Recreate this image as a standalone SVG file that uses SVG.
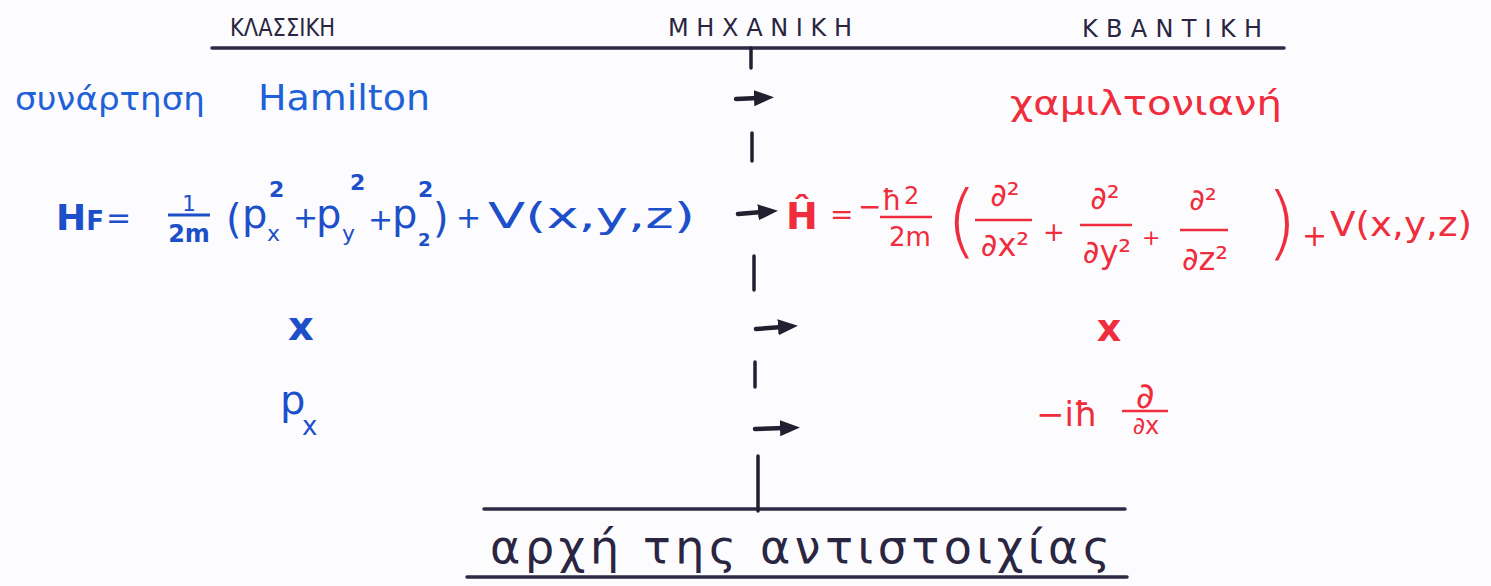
<svg xmlns="http://www.w3.org/2000/svg" width="1491" height="586" viewBox="0 0 1491 586">
<style>
.hd{font-family:"DejaVu Sans",sans-serif;font-size:24px;fill:#2a2540;}
.bl{font-family:"DejaVu Sans",sans-serif;fill:#1f62d8;}
.bm{font-family:"DejaVu Sans",sans-serif;fill:#1c4fc9;}
.rd{font-family:"DejaVu Sans",sans-serif;fill:#ef2d3c;}
.dk{font-family:"DejaVu Sans",sans-serif;fill:#2a2540;}
.rule{stroke:#2d2a45;stroke-width:3.5;stroke-linecap:round;}
.dash{stroke:#221f30;stroke-width:3.5;stroke-linecap:round;}
.fr{stroke:#ef2d3c;stroke-width:2.5;}
.fb{stroke:#1c4fc9;stroke-width:3;}
.arr{stroke:#221f30;stroke-width:4.5;stroke-linecap:round;fill:none;marker-end:url(#ah);}
</style>
<defs>
<marker id="ah" markerUnits="userSpaceOnUse" markerWidth="22" markerHeight="20" refX="4" refY="10" orient="auto">
<path d="M0,2 L20,10 L0,18 z" fill="#221f30"/>
</marker>
</defs>
<rect width="1491" height="586" fill="#fcfcfe"/>

<g id="frame">
<line class="rule" x1="212" y1="48" x2="1284" y2="48"/>
<line class="rule" x1="484" y1="509" x2="1125" y2="509"/>
<line class="rule" x1="467" y1="577" x2="1127" y2="577"/>
<line class="dash" x1="751" y1="48" x2="751" y2="68"/>
<line class="dash" x1="752" y1="133" x2="752" y2="161"/>
<line class="dash" x1="754" y1="256" x2="754" y2="290"/>
<line class="dash" x1="755" y1="362" x2="755" y2="387"/>
<line class="dash" x1="758" y1="456" x2="758" y2="511"/>
</g>

<g id="header">
<text class="hd" x="230" y="36" textLength="105" lengthAdjust="spacingAndGlyphs">ΚΛΑΣΣΙΚΗ</text>
<text class="hd" x="668" y="36" textLength="184" lengthAdjust="spacing">ΜΗΧΑΝΙΚΗ</text>
<text class="hd" x="1082" y="37" textLength="180" lengthAdjust="spacing">ΚΒΑΝΤΙΚΗ</text>
</g>

<g id="classical-hamilton-name">
<text class="bl" x="15" y="110" font-size="32" textLength="190" lengthAdjust="spacingAndGlyphs">συνάρτηση</text>
<text class="bl" x="258" y="110" font-size="36" textLength="172" lengthAdjust="spacingAndGlyphs">Hamilton</text>
</g>

<g id="quantum-hamilton-name">
<text class="rd" x="1010" y="115" font-size="34" textLength="272" lengthAdjust="spacingAndGlyphs">χαμιλτονιανή</text>
</g>

<g id="classical-hamiltonian">
<text class="bm" x="56" y="230" font-size="36" font-weight="bold">H<tspan font-size="26">F</tspan></text>
<text class="bm" x="106" y="228" font-size="30">=</text>
<text class="bm" x="189" y="211" font-size="22" text-anchor="middle">1</text>
<line class="fb" x1="168" y1="215" x2="210" y2="215"/>
<text class="bm" x="189" y="242" font-size="24" text-anchor="middle" font-weight="bold">2m</text>
<text class="bm" x="226" y="233" font-size="40">(</text>
<text class="bm" x="242" y="228" font-size="40">p</text>
<text class="bm" x="267" y="241" font-size="22">x</text>
<text class="bm" x="269" y="197" font-size="22" font-weight="bold">2</text>
<text class="bm" x="293" y="228" font-size="30">+</text>
<text class="bm" x="316" y="228" font-size="40">p</text>
<text class="bm" x="342" y="241" font-size="22">y</text>
<text class="bm" x="350" y="190" font-size="22" font-weight="bold">2</text>
<text class="bm" x="368" y="230" font-size="30">+</text>
<text class="bm" x="392" y="228" font-size="40">p</text>
<text class="bm" x="418" y="246" font-size="18" font-weight="bold">2</text>
<text class="bm" x="418" y="197" font-size="22" font-weight="bold">2</text>
<text class="bm" x="433" y="232" font-size="40">)</text>
<text class="bm" x="456" y="228" font-size="30">+</text>
<text class="bm" x="488" y="228" font-size="36" textLength="207" lengthAdjust="spacingAndGlyphs">V(x,y,z)</text>
</g>

<g id="quantum-hamiltonian">
<text class="rd" x="786" y="229" font-size="38" font-weight="bold">Ĥ</text>
<text class="rd" x="830" y="224" font-size="28">=</text>
<text class="rd" x="858" y="216" font-size="28">−</text>
<text class="rd" x="882" y="210" font-size="28">ħ</text>
<text class="rd" x="904" y="204" font-size="24">2</text>
<line class="fr" x1="880" y1="217" x2="932" y2="217"/>
<text class="rd" x="910" y="246" font-size="26" text-anchor="middle">2m</text>
<text class="rd" x="946" y="248" font-size="80" font-weight="200">(</text>
<text class="rd" x="1005" y="206" font-size="32" text-anchor="middle">∂²</text>
<line class="fr" x1="975" y1="220" x2="1032" y2="220"/>
<text class="rd" x="1005" y="256" font-size="32" text-anchor="middle">∂x²</text>
<text class="rd" x="1043" y="241" font-size="26">+</text>
<text class="rd" x="1105" y="209" font-size="32" text-anchor="middle">∂²</text>
<line class="fr" x1="1080" y1="225" x2="1132" y2="225"/>
<text class="rd" x="1107" y="263" font-size="32" text-anchor="middle">∂y²</text>
<text class="rd" x="1142" y="245" font-size="22">+</text>
<text class="rd" x="1203" y="210" font-size="30" text-anchor="middle">∂²</text>
<line class="fr" x1="1180" y1="230" x2="1228" y2="230"/>
<text class="rd" x="1205" y="270" font-size="32" text-anchor="middle">∂z²</text>
<text class="rd" x="1266" y="250" font-size="80" font-weight="200">)</text>
<text class="rd" x="1302" y="246" font-size="30">+</text>
<text class="rd" x="1330" y="236" font-size="34" textLength="142" lengthAdjust="spacingAndGlyphs">V(x,y,z)</text>
</g>

<g id="classical-position">
<text class="bm" x="301" y="340" font-size="40" font-weight="bold" text-anchor="middle">x</text>
</g>
<g id="quantum-position">
<text class="rd" x="1109" y="341" font-size="38" font-weight="bold" text-anchor="middle">x</text>
</g>

<g id="classical-momentum">
<text class="bm" x="280" y="414" font-size="40">p</text>
<text class="bm" x="302" y="435" font-size="26">x</text>
</g>
<g id="quantum-momentum">
<text class="rd" x="1036" y="426" font-size="34">−iħ</text>
<text class="rd" x="1145" y="408" font-size="36" text-anchor="middle">∂</text>
<line class="fr" x1="1122" y1="411" x2="1168" y2="411"/>
<text class="rd" x="1146" y="434" font-size="24" text-anchor="middle">∂x</text>
</g>

<g id="footer">
<text class="dk" x="490" y="563" font-size="46" textLength="620" lengthAdjust="spacing">αρχή της αντιστοιχίας</text>
</g>

<g id="connectors">
<line class="arr" x1="736" y1="99" x2="758" y2="98"/>
<line class="arr" x1="738" y1="214" x2="762" y2="212"/>
<line class="arr" x1="756" y1="329" x2="782" y2="327"/>
<line class="arr" x1="755" y1="429" x2="784" y2="428"/>
</g>
</svg>
